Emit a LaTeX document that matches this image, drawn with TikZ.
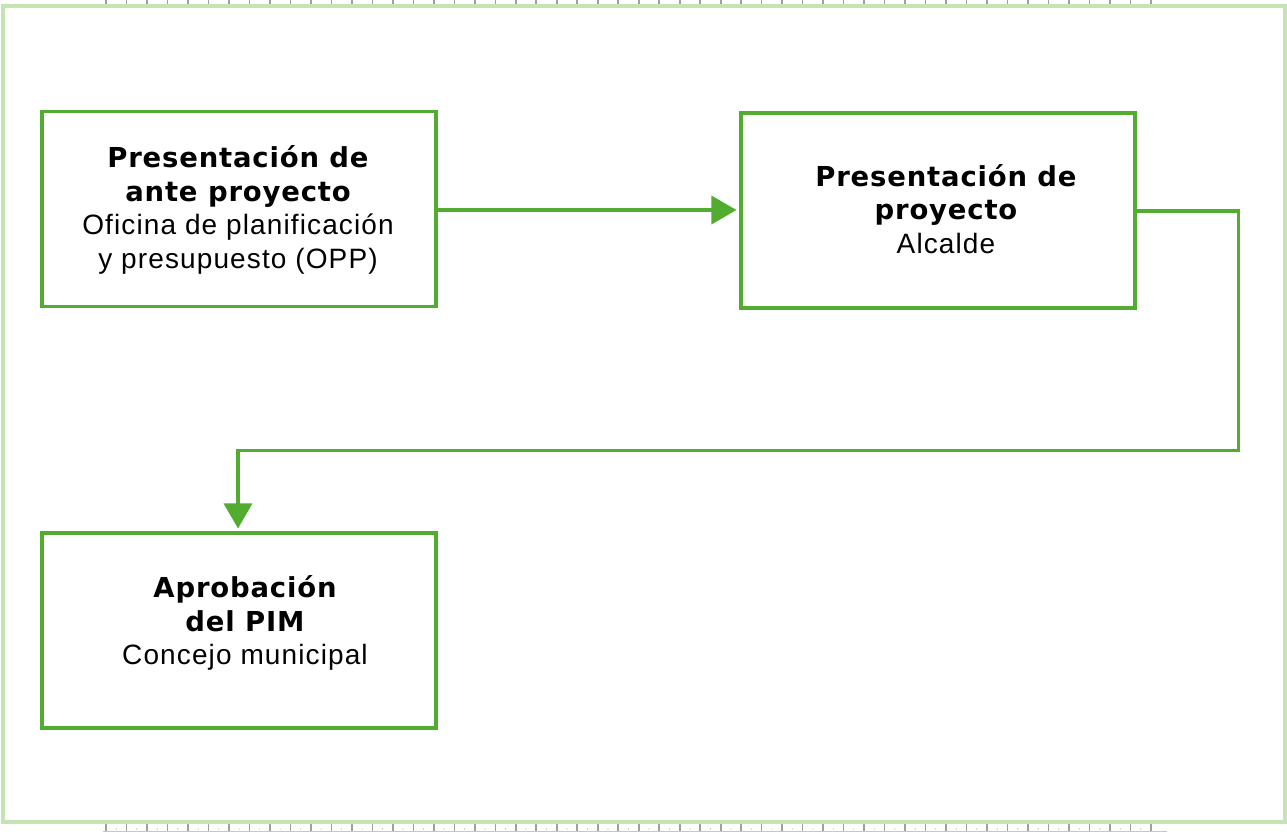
\documentclass[tikz,border=0pt]{standalone}
\usepackage{fontspec}
\setmainfont{Liberation Sans}
\newfontfamily\titlefont[LetterSpace=3]{DejaVu Sans}
\usetikzlibrary{arrows.meta}
\definecolor{boxgreen}{RGB}{82,172,48}
\definecolor{framegreen}{RGB}{197,228,180}
\definecolor{tickgray}{RGB}{160,160,160}
\newcommand{\ttl}[1]{{\titlefont\bfseries\fontsize{20.6}{25.2}\selectfont #1}}
\newcommand{\sub}[1]{{\addfontfeatures{LetterSpace=4}#1}}
\tikzset{
  stepbox/.style={draw=boxgreen, line width=2.4pt, fill=white, rectangle, inner sep=0pt,
    minimum width=394*0.75pt, minimum height=195*0.75pt},
  boxtext/.style={align=center, font=\fontsize{21}{25.2}\selectfont, inner sep=0pt},
  conn/.style={draw=boxgreen, line width=2.6pt, -{Triangle[length=25*0.75pt, width=28*0.75pt]}, shorten >=2.2pt},
  tick/.style={draw=tickgray, line width=1.2pt}
}
\begin{document}
\begin{tikzpicture}[x=0.75pt, y=-0.75pt]
\useasboundingbox (0,0) rectangle (1287,832);
% rulers
\foreach \i in {0,...,51} {
  \draw[tick] ({106+\i*20.49},0) -- ({106+\i*20.49},4);
  \draw[tick] ({106+\i*20.49},824) -- ({106+\i*20.49},831);
}
\foreach \i in {0,...,50} {
  \fill[tickgray] ({116.2+\i*20.49},829) circle (0.6);
}
\draw[draw=tickgray!60, line width=0.8pt] (103,831.5) -- (1167,831.5);
% outer frame
\draw[draw=framegreen, line width=3pt] (3,5.5) rectangle (1284.5,821.5);
% boxes
\node[stepbox] (b1) at (239,209) {};
\node[stepbox] (b2) at (938,210.5) {};
\node[stepbox] (b3) at (239,630.5) {};
\node[boxtext] (t1) at (238,210) {\ttl{Presentación de}\\\ttl{ante proyecto}\\\sub{Oficina de planificación}\\\sub{y presupuesto (OPP)}};
\node[boxtext] (t2) at (946,209) {\ttl{Presentación de}\\\ttl{proyecto}\\\sub{Alcalde}};
\node[boxtext] (t3) at (245,623) {\ttl{Aprobación}\\\ttl{del PIM}\\\sub{Concejo municipal}};
% connectors
\draw[conn] (b1.east |- 0,210) -- (b2.west |- 0,210);
\coordinate (c1) at (1238.5,211);
\coordinate (c2) at (1238.5,450.5);
\coordinate (c3) at (238,450.5);
\draw[conn] (b2.east |- c1) -- (c1) -- (c2) -- (c3) -- (c3 |- b3.north);
\end{tikzpicture}
\end{document}
